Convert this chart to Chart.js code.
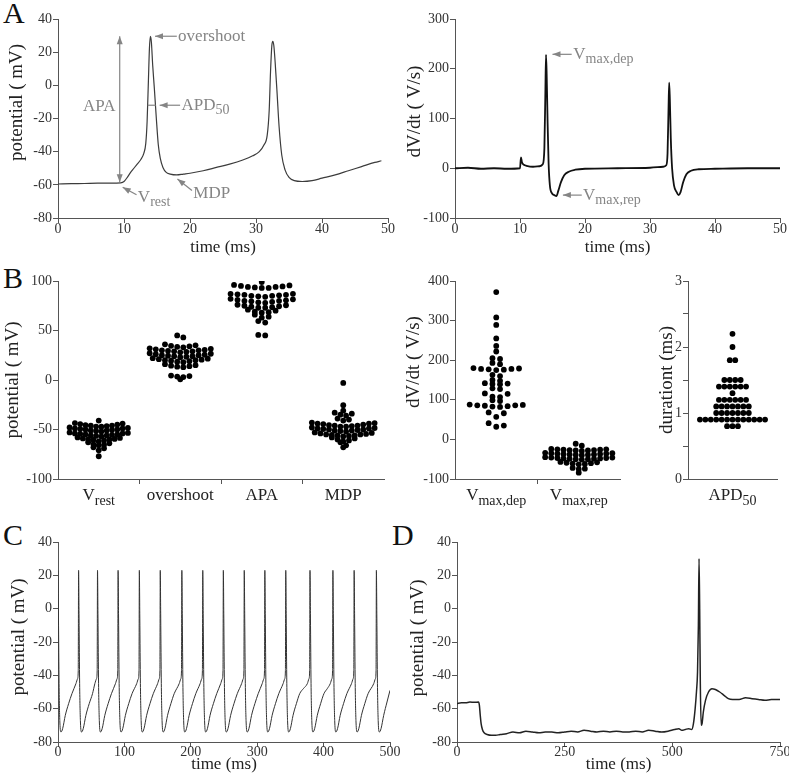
<!DOCTYPE html>
<html>
<head>
<meta charset="utf-8">
<script src="https://cdn.jsdelivr.net/npm/chart.js@4.4.1/dist/chart.umd.min.js"></script>
<style>
  body { margin: 0; background: #fff; width: 789px; height: 779px; position: relative; overflow: hidden; }
  canvas { position: absolute; }
  .letter { position: absolute; font: 30px "Liberation Serif", serif; line-height: 30px; color: #111; }
</style>
</head>
<body>
<div class="letter" style="left:3px;top:-2px">A</div>
<div class="letter" style="left:3px;top:263px">B</div>
<div class="letter" style="left:3px;top:520px">C</div>
<div class="letter" style="left:392px;top:520px">D</div>

<canvas id="aLeft" width="400" height="262" style="left:0;top:0"></canvas>
<canvas id="aRight" width="400" height="262" style="left:395px;top:0"></canvas>
<canvas id="bLeft" width="400" height="262" style="left:0;top:262px"></canvas>
<canvas id="bMid" width="240" height="262" style="left:395px;top:262px"></canvas>
<canvas id="bRight" width="154" height="262" style="left:635px;top:262px"></canvas>
<canvas id="cPanel" width="400" height="255" style="left:0;top:524px"></canvas>
<canvas id="dPanel" width="400" height="255" style="left:395px;top:524px"></canvas>

<script>
// A: single action potential (mV) and its derivative (V/s)
const aTime = [0, 2, 4, 6, 8, 9.5, 10, 10.5, 11, 11.5, 12, 12.5, 13, 13.3, 13.5, 13.7, 13.85, 14.0, 14.15, 14.35,
  14.6, 14.9, 15.2, 15.5, 15.9, 16.4, 17, 18, 19, 20, 22, 24, 26, 28, 29.5, 30.5, 31.2, 31.7, 32, 32.2,
  32.4, 32.55, 32.7, 32.9, 33.2, 33.5, 33.9, 34.4, 35, 35.8, 37, 38.5, 40, 42, 44, 46, 48, 49];
const aVolt = [-59.5, -59.3, -59.2, -59, -59, -58.8, -58, -55.5, -52.5, -50, -47.5, -45, -41, -35, -22, 3, 22, 29.5, 26, 12,
  -2, -20, -36, -44, -49.5, -52.5, -53.5, -54, -53.5, -53, -51.5, -49.5, -47.5, -45, -42.5, -40, -36, -30, -15, 8,
  24, 26.5, 24, 14, -5, -25, -42, -51, -55.5, -57.5, -58, -57.5, -56, -54, -51.5, -49, -46.5, -45.5];

const dvTime = [0, 2, 4, 6, 8, 10, 10.15, 10.3, 10.6, 11, 12, 13, 13.5, 13.75, 13.9, 14.0, 14.1, 14.25, 14.4, 14.6,
  14.9, 15.3, 15.6, 15.9, 16.3, 16.8, 17.5, 18.5, 20, 25, 30, 32, 32.5, 32.7, 32.85, 32.95, 33.05, 33.2, 33.4, 33.7,
  34.1, 34.4, 34.7, 35.1, 35.6, 36.3, 37.5, 40, 45, 50];
const dvRate = [0, 1, -1, 0, -1, 0, 22, 12, 7, 5, 3, 4, 8, 40, 150, 228, 190, 90, 10, -35,
  -50, -54, -56, -45, -28, -14, -7, -3, -1, 0, 1, 3, 6, 30, 120, 172, 140, 60, 0, -35,
  -48, -54, -48, -28, -12, -5, -2, -1, 0, 0];

// B: per-cell parameters
const potLabels = ['V', 'overshoot', 'APA', 'MDP'];
const potSubs = ['rest', '', '', ''];
const vrest = [-41,
  -43.5, -44, -44.5, -45, -45.5, -46, -46, -46.5, -47, -47.2,
  -48, -48.5, -49, -49, -49.5, -50, -50, -50.5, -51, -51, -51.5, -52,
  -53, -53.5, -54, -54, -54.5, -55, -55, -55.5, -56, -56, -56.5, -57,
  -58, -58.5, -59, -59.5, -60, -60, -60.5, -61, -62,
  -63, -64, -65, -65.5, -66,
  -68, -69, -71,
  -77];
const overshoot = [45, 43,
  36, 35, 34.5, 34, 33.5, 33,
  32, 31.5, 31, 30.5, 30, 30, 29.5, 29, 29, 28.5, 28,
  27, 26.5, 26, 25.5, 25, 25, 24.5, 24, 24, 23.5, 23,
  22, 21.5, 21, 20.5, 20, 20, 19.5, 19, 18.5, 18,
  16, 15, 14.5, 14, 13.5, 13,
  4.5, 4, 3.5, 3,
  0.7];
const apa = [99,
  96, 95.5, 95, 94.5, 94, 94, 93.5, 93, 93,
  87, 87, 86.5, 86, 86, 85.5, 85, 85, 84.5, 84,
  82, 81.5, 81, 80.5, 80, 80, 79.5, 79, 78.5, 78,
  76, 75.5, 75, 74.5, 74, 73.5, 73, 73,
  71, 70, 69, 68.5, 68,
  66, 64, 63,
  59.5, 58,
  45.5, 45];
const mdp = [-3, -25.5, -31,
  -33, -34, -35, -36,
  -39, -40, -41,
  -43, -43.5, -44, -44, -44.5, -45, -45.5, -46, -46, -46.5, -47, -47,
  -48, -48.5, -49, -49, -49.5, -50, -50, -50.5, -51, -51, -51.5, -52,
  -53, -53.5, -54, -54.5, -55, -55, -55.5, -56, -56, -56.5, -57,
  -58, -59, -60, -61, -62,
  -63, -66,
  -68];

const rateLabels = ['V', 'V'];
const rateSubs = ['max,dep', 'max,rep'];
const vmaxDep = [372, 308, 289, 255, 236, 222, 205, 203, 193, 190, 180, 179, 178, 178, 177, 176, 175, 163, 160,
  150, 148, 142, 141, 140, 139, 129, 127, 116, 115, 108, 107, 99, 97, 88, 87, 86, 86, 85, 84, 83, 82,
  68, 66, 57, 41, 35, 32];
const vmaxRep = [-11, -16,
  -24, -25, -25, -26, -26, -27, -27, -28, -28, -29,
  -34, -35, -35, -36, -36, -37, -37, -38, -38, -39, -39, -40,
  -45, -46, -46, -47, -47, -48, -48, -49, -49, -50, -50, -51,
  -57, -58, -59, -60, -61, -62, -63,
  -72, -74, -75,
  -84];

const apdLabels = ['APD'];
const apdSubs = ['50'];
const apd50 = [2.2, 2.0, 1.8, 1.8,
  1.5, 1.5, 1.5, 1.5,
  1.4, 1.4, 1.4, 1.4, 1.4, 1.4,
  1.3,
  1.2, 1.2, 1.2, 1.2, 1.2, 1.2,
  1.1, 1.1, 1.1, 1.1, 1.1, 1.1, 1.1,
  1.0, 1.0, 1.0, 1.0, 1.0, 1.0, 1.0,
  0.9, 0.9, 0.9, 0.9, 0.9, 0.9, 0.9, 0.9, 0.9, 0.9, 0.9, 0.9, 0.9,
  0.8, 0.8, 0.8];

// C: spontaneous firing, 0-500 ms
const cTime = [
  0, 0.7, 1.6, 2.8, 4.5, 7, 11, 16, 21, 27, 29.5, 30.5, 31,
  31.7, 32.6, 33.8, 35.5, 38, 42, 47, 52, 55.5, 58, 59, 59.5,
  60.2, 61.1, 62.3, 64, 66.5, 70.5, 75.5, 80.5, 86.5, 89, 90, 90.5,
  91.2, 92.1, 93.3, 95, 97.5, 101.5, 106.5, 111.5, 118.5, 121, 122, 122.5,
  123.2, 124.1, 125.3, 127, 129.5, 133.5, 138.5, 143.5, 150, 152.5, 153.5, 154,
  154.7, 155.6, 156.8, 158.5, 161, 165, 170, 175, 182.5, 185, 186, 186.5,
  187.2, 188.1, 189.3, 191, 193.5, 197.5, 202.5, 207.5, 214, 216.5, 217.5, 218,
  218.7, 219.6, 220.8, 222.5, 225, 229, 234, 239, 245, 247.5, 248.5, 249,
  249.7, 250.6, 251.8, 253.5, 256, 260, 265, 270, 276.5, 279, 280, 280.5,
  281.2, 282.1, 283.3, 285, 287.5, 291.5, 296.5, 301.5, 307.5, 310, 311, 311.5,
  312.2, 313.1, 314.3, 316, 318.5, 322.5, 327.5, 332.5, 339, 341.5, 342.5, 343,
  343.7, 344.6, 345.8, 347.5, 350, 354, 359, 364, 369.5, 375.5, 378, 379, 379.5,
  380.2, 381.1, 382.3, 384, 386.5, 390.5, 395.5, 400.5, 405.5, 410, 412.5, 413.5, 414,
  414.7, 415.6, 416.8, 418.5, 421, 425, 430, 435, 442, 444.5, 445.5, 446,
  446.7, 447.6, 448.8, 450.5, 453, 457, 462, 467, 475.5, 478, 479, 479.5,
  480.2, 481.1, 482.3, 484, 486.5, 490.5, 495.5, 500];
const cVolt = [
  23, -5, -45, -68, -74, -72, -64, -57, -51, -45, -42, -37, 23,
  -5, -45, -68, -74, -72, -64, -57, -51, -45, -42, -37, 23,
  -5, -45, -68, -74, -72, -64, -57, -51, -45, -42, -37, 23,
  -5, -45, -68, -74, -72, -64, -57, -51, -45, -42, -37, 23,
  -5, -45, -68, -74, -72, -64, -57, -51, -45, -42, -37, 23,
  -5, -45, -68, -74, -72, -64, -57, -51, -45, -42, -37, 23,
  -5, -45, -68, -74, -72, -64, -57, -51, -45, -42, -37, 23,
  -5, -45, -68, -74, -72, -64, -57, -51, -45, -42, -37, 23,
  -5, -45, -68, -74, -72, -64, -57, -51, -45, -42, -37, 23,
  -5, -45, -68, -74, -72, -64, -57, -51, -45, -42, -37, 23,
  -5, -45, -68, -74, -72, -64, -57, -51, -45, -42, -37, 23,
  -5, -45, -68, -74, -72, -64, -57, -51, -48, -45, -42, -37, 23,
  -5, -45, -68, -74, -72, -64, -57, -51, -48, -45, -42, -37, 23,
  -5, -45, -68, -74, -72, -64, -57, -51, -45, -42, -37, 23,
  -5, -45, -68, -74, -72, -64, -57, -51, -45, -42, -37, 23,
  -5, -45, -68, -74, -72, -64, -56, -49];

// D: hyperpolarised cell firing one AP, 0-750 ms
const dTime = [0, 10, 20, 30, 40, 50, 52, 54, 56, 59, 63, 70, 80, 90, 100, 115, 130, 145, 160, 175,
  190, 205, 220, 235, 250, 265, 280, 295, 310, 325, 340, 355, 370, 385, 400, 415, 430, 445, 460, 475,
  490, 505, 515, 522, 530, 538, 545, 549, 553, 556, 558.5, 560.5, 562, 563.5, 565, 567, 569, 572, 577, 584,
  592, 600, 610, 620, 630, 640, 655, 670, 685, 700, 715, 730, 750];
const dVolt = [-57, -56.5, -56.5, -56, -56.2, -56, -58, -64, -69, -72.5, -74.5, -75.5, -76, -76, -75.5, -75, -74, -74.5, -73.5, -74,
  -74.5, -74, -74, -74.5, -74, -73.5, -74, -73, -73.5, -74, -73.5, -74, -73.5, -74, -74, -73.5, -74, -73, -73.5, -74,
  -73.5, -72.5, -72, -73, -72.5, -72, -72.5, -69, -60, -50, -38, -10, 30, 0, -45, -70, -69, -62, -55, -50,
  -48, -48.5, -50, -52, -54, -54.5, -54.5, -53.5, -54, -54.5, -55, -54.5, -54.5];

const SERIF = '"Liberation Serif", "Times New Roman", serif';
const AXIS = '#555';
const NOTE = '#858585';
Chart.defaults.font.family = SERIF;
Chart.defaults.color = '#333';

// text with a lowered, smaller subscript
function drawSub(ctx, x, y, base, sub, size, align) {
  const big = size + 'px ' + SERIF;
  const small = Math.round(size * 0.8) + 'px ' + SERIF;
  ctx.font = big;
  const w1 = ctx.measureText(base).width;
  ctx.font = small;
  const w2 = sub ? ctx.measureText(sub).width : 0;
  const x0 = align === 'center' ? x - (w1 + w2) / 2 : x;
  ctx.textAlign = 'left';
  ctx.textBaseline = 'middle';
  ctx.font = big;
  ctx.fillText(base, x0, y);
  if (sub) {
    ctx.font = small;
    ctx.fillText(sub, x0 + w1, y + size * 0.3);
  }
}

function arrowHead(ctx, fx, fy, tx, ty) {
  const ang = Math.atan2(ty - fy, tx - fx);
  ctx.beginPath();
  ctx.moveTo(tx, ty);
  ctx.lineTo(tx - 8 * Math.cos(ang) + 3 * Math.sin(ang), ty - 8 * Math.sin(ang) - 3 * Math.cos(ang));
  ctx.lineTo(tx - 8 * Math.cos(ang) - 3 * Math.sin(ang), ty - 8 * Math.sin(ang) + 3 * Math.cos(ang));
  ctx.closePath();
  ctx.fill();
}

// rotated y title, drawn by hand so it can sit off centre like the original
function yTitle(text, x, shift) {
  return {
    id: 'yTitle',
    afterDraw(chart) {
      const { ctx, chartArea } = chart;
      ctx.save();
      ctx.translate(x, (chartArea.top + chartArea.bottom) / 2 - shift);
      ctx.rotate(-Math.PI / 2);
      ctx.font = '19px ' + SERIF;
      ctx.fillStyle = '#222';
      ctx.textAlign = 'center';
      ctx.textBaseline = 'middle';
      ctx.fillText(text, 0, 0);
      ctx.restore();
    }
  };
}

function notes(cfg) {
  return {
    id: 'notes',
    afterDatasetsDraw(chart) {
      const { ctx, scales: { x, y } } = chart;
      const px = p => [x.getPixelForValue(p[0]), y.getPixelForValue(p[1])];
      ctx.save();
      ctx.strokeStyle = NOTE;
      ctx.fillStyle = NOTE;
      ctx.lineWidth = 1.2;
      (cfg.lines || []).concat(cfg.arrows).forEach(a => {
        const [x1, y1] = px(a.from), [x2, y2] = px(a.to);
        ctx.beginPath(); ctx.moveTo(x1, y1); ctx.lineTo(x2, y2); ctx.stroke();
        if (a.head) arrowHead(ctx, x1, y1, x2, y2);
        if (a.both) arrowHead(ctx, x2, y2, x1, y1);
      });
      cfg.labels.forEach(l => {
        const [lx, ly] = px(l.at);
        drawSub(ctx, lx, ly, l.text, l.sub, 17, 'left');
      });
      ctx.restore();
    }
  };
}

function catLabels(bases, subs) {
  return {
    id: 'catLabels',
    afterDraw(chart) {
      const { ctx, chartArea, scales: { x } } = chart;
      ctx.save();
      ctx.fillStyle = '#222';
      bases.forEach((b, i) => drawSub(ctx, x.getPixelForValue(i + 0.5), chartArea.bottom + 17, b, subs[i], 17, 'center'));
      ctx.restore();
    }
  };
}

// dot plot layout: values sharing a bin go side by side, highest ones outside
function swarm(values, center, bin, dx) {
  const rows = {};
  values.forEach(v => {
    const k = Math.round(v / bin);
    (rows[k] = rows[k] || []).push(v);
  });
  const pts = [];
  Object.values(rows).forEach(row => {
    row.sort((a, b) => b - a);
    const slots = row.map((v, i) => i - (row.length - 1) / 2);
    slots.sort((a, b) => Math.abs(b) - Math.abs(a) || a - b);
    row.forEach((v, i) => pts.push({ x: center + slots[i] * dx, y: v }));
  });
  return pts;
}

function yAxis(min, max, step, width, fmt) {
  return {
    type: 'linear', position: 'left', min, max,
    ticks: { stepSize: step, padding: 1, color: '#333', font: { size: 14 }, callback: fmt || (v => v) },
    grid: { drawOnChartArea: false, tickLength: 5, color: AXIS },
    border: { color: AXIS },
    afterFit: s => { s.width = width; s.paddingTop = 0; s.paddingBottom = 0; }
  };
}

function xAxis(min, max, step, height, title, pb, tickPad) {
  return {
    type: 'linear', position: 'bottom', min, max,
    ticks: { stepSize: step, padding: tickPad, color: '#333', font: { size: 14 }, maxRotation: 0, autoSkip: false },
    grid: { drawOnChartArea: false, tickLength: 5, color: AXIS },
    border: { color: AXIS },
    title: { display: true, text: title, color: '#222', font: { size: 17 }, padding: { top: 0, bottom: pb } },
    afterFit: s => { s.height = height; s.paddingLeft = 0; s.paddingRight = 0; }
  };
}

function catAxis(n, height, ticks) {
  return {
    type: 'linear', position: 'bottom', min: 0, max: n,
    ticks: { callback: () => '' },
    afterBuildTicks: s => { s.ticks = ticks.map(v => ({ value: v })); },
    grid: { drawOnChartArea: false, drawTicks: ticks.length > 0, tickLength: 5, color: AXIS },
    border: { color: AXIS },
    afterFit: s => { s.height = height; s.paddingLeft = 0; s.paddingRight = 0; }
  };
}

const baseOptions = pad => ({
  responsive: false,
  animation: false,
  events: [],
  layout: { padding: pad },
  plugins: { legend: { display: false }, tooltip: { enabled: false } }
});

function traceChart(id, time, volt, color, width, pad, scales, plugins) {
  return new Chart(document.getElementById(id), {
    type: 'line',
    data: {
      datasets: [{
        data: time.map((t, i) => ({ x: t, y: volt[i] })),
        borderColor: color, borderWidth: width, pointRadius: 0,
        cubicInterpolationMode: 'monotone', fill: false
      }]
    },
    options: Object.assign(baseOptions(pad), { scales }),
    plugins
  });
}

function dotChart(id, points, pad, scales, plugins) {
  return new Chart(document.getElementById(id), {
    type: 'scatter',
    data: { datasets: [{ data: points, pointRadius: 2.9, backgroundColor: '#000', borderWidth: 0 }] },
    options: Object.assign(baseOptions(pad), { scales }),
    plugins
  });
}

// A left
traceChart('aLeft', aTime, aVolt, '#3c3c3c', 1.2, { top: 19, right: 12, left: 0, bottom: 0 },
  { x: xAxis(0, 50, 10, 44, 'time (ms)', 4, -2), y: yAxis(-80, 40, 20, 58) },
  [yTitle('potential ( mV)', 17.5, 16), notes({
    lines: [{ from: [13.6, -12], to: [14.8, -12] }],
    arrows: [
      { from: [9.35, -58.4], to: [9.35, 29.6], head: true, both: true },
      { from: [18.0, 29.6], to: [14.7, 29.6], head: true },
      { from: [18.5, -12], to: [15.4, -12], head: true },
      { from: [11.9, -66], to: [9.8, -61.4], head: true },
      { from: [20.3, -63.4], to: [18.1, -56.5], head: true }
    ],
    labels: [
      { at: [3.8, -13], text: 'APA', sub: '' },
      { at: [18.2, 29.6], text: 'overshoot', sub: '' },
      { at: [18.7, -12], text: 'APD', sub: '50' },
      { at: [12.1, -67.5], text: 'V', sub: 'rest' },
      { at: [20.5, -65.5], text: 'MDP', sub: '' }
    ]
  })]);

// A right
traceChart('aRight', dvTime, dvRate, '#111', 1.8, { top: 19, right: 15, left: 0, bottom: 0 },
  { x: xAxis(0, 50, 10, 44, 'time (ms)', 4, -2), y: yAxis(-100, 300, 100, 60) },
  [yTitle('dV/dt ( V/s)', 20, 7), notes({
    arrows: [
      { from: [17.95, 229], to: [15.0, 229], head: true },
      { from: [19.5, -54], to: [16.6, -54], head: true }
    ],
    labels: [
      { at: [18.2, 229], text: 'V', sub: 'max,dep' },
      { at: [19.7, -54], text: 'V', sub: 'max,rep' }
    ]
  })]);

// B dot plots, dot spacing per column as in the original
const potPoints = [
  ...swarm(vrest, 0.5, 5, 0.065),
  ...swarm(overshoot, 1.5, 5, 0.075),
  ...swarm(apa, 2.5, 5, 0.085),
  ...swarm(mdp, 3.5, 5, 0.07)
];
dotChart('bLeft', potPoints, { top: 19, right: 16, left: 0, bottom: 0 },
  { x: catAxis(4, 45, [1, 2, 3]), y: yAxis(-100, 100, 50, 58) },
  [yTitle('potential ( mV)', 13.5, 0), catLabels(potLabels, potSubs)]);

const ratePoints = [...swarm(vmaxDep, 0.5, 12.5, 0.092), ...swarm(vmaxRep, 1.5, 12.5, 0.074)];
dotChart('bMid', ratePoints, { top: 19, right: 15, left: 0, bottom: 0 },
  { x: catAxis(2, 45, [1]), y: yAxis(-100, 400, 100, 60) },
  [yTitle('dV/dt ( V/s)', 19.5, 18), catLabels(rateLabels, rateSubs)]);

dotChart('bRight', swarm(apd50, 0.5, 0.1, 0.061), { top: 19, right: 12, left: 0, bottom: 0 },
  { x: catAxis(1, 45, []), y: yAxis(0, 3, 0.5, 53, v => Number.isInteger(v) ? v : '') },
  [yTitle('durationt (ms)', 32.5, 0), catLabels(apdLabels, apdSubs)]);

// C and D
traceChart('cPanel', cTime, cVolt, '#333', 1, { top: 18, right: 10, left: 0, bottom: 0 },
  { x: xAxis(0, 500, 100, 37, 'time (ms)', 4, -3), y: yAxis(-80, 40, 20, 58) },
  [yTitle('potential ( mV)', 19.5, 5)]);

traceChart('dPanel', dTime, dVolt, '#222', 1.5, { top: 18, right: 15, left: 0, bottom: 0 },
  { x: xAxis(0, 750, 250, 37, 'time (ms)', 4, -3), y: yAxis(-80, 40, 20, 62) },
  [yTitle('potential ( mV)', 23.5, 4)]);
</script>
</body>
</html>
